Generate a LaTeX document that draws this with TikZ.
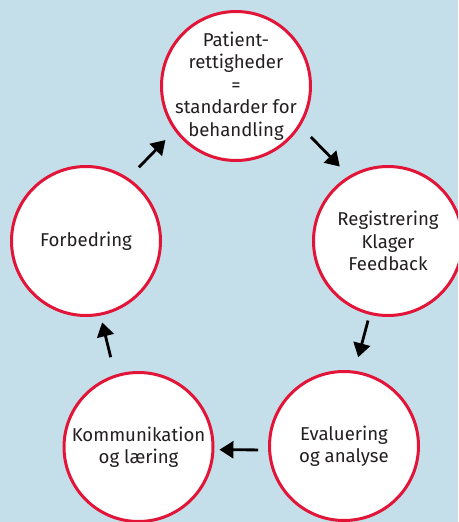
\documentclass[tikz,border=0pt]{standalone}
\usepackage{fontspec}
\setmainfont{Fira Sans}
\usepackage{tikz}
\usetikzlibrary{positioning,arrows.meta,shapes,calc}

\definecolor{bgblue}{RGB}{197,223,234}
\definecolor{ringred}{RGB}{226,20,55}
\definecolor{txtgray}{RGB}{35,31,32}

\begin{document}
\begin{tikzpicture}[x=1pt,y=-1pt,
    caption/.style={align=center,text=txtgray,inner sep=0pt,
        font=\fontsize{18.6}{22.5}\selectfont},
    stage/.style={circle,draw=ringred,fill=white,line width=3pt,
        minimum size=149pt,inner sep=0pt,label={[caption]center:#1}},
    flow/.style={line width=2.8pt,-{Triangle[length=14pt,width=17pt]}}]
    % Background
    \fill[bgblue] (0,0) rectangle (458,522);
    \clip (0,0) rectangle (458,522);

    % Circles
    \node[stage={Patient-\\rettigheder\\=\\standarder for\\behandling}] (rights) at (236,86) {};
    \node[stage={Registrering\\Klager\\Feedback}] (register) at (388,241) {};
    \node[stage={Evaluering\\og analyse}] (eval) at (344,446) {};
    \node[stage={Kommunikation\\og læring}] (learn) at (138.5,447) {};
    \node[stage={Forbedring}] (improve) at (86,241) {};

    % Arrows
    \draw[flow,shorten <=15pt,shorten >=13pt] (rights.-32) -- (register.121);
    \draw[flow,shorten <=6pt,shorten >=14pt] (register.256) -- (eval.82);
    \draw[flow,shorten <=10pt,shorten >=5pt] (eval.183) -- (learn.-2);
    \draw[flow,shorten <=18pt,shorten >=7pt] (learn.108) -- (improve.-79);
    \draw[flow,shorten <=15pt,shorten >=13pt] (improve.56) -- (rights.216);
\end{tikzpicture}
\end{document}
